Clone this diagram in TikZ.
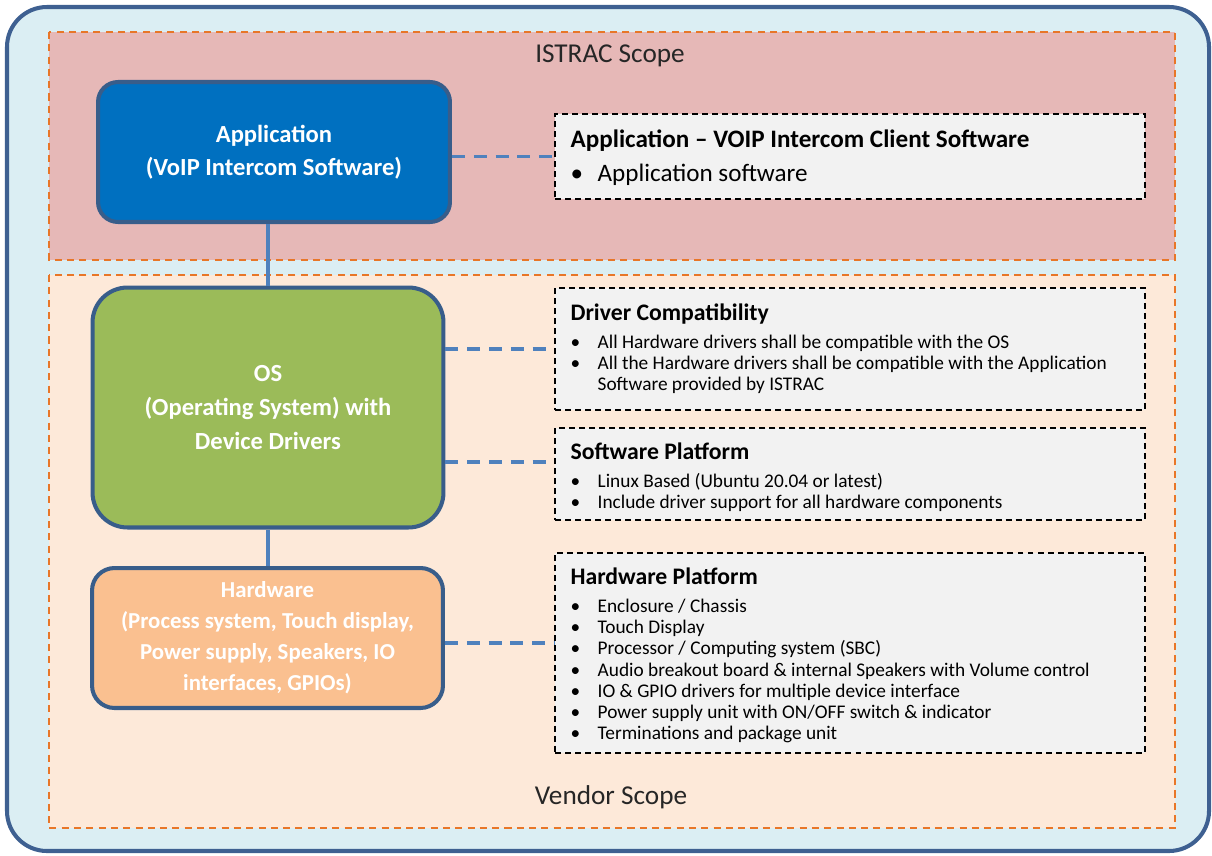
\documentclass[tikz,border=0pt]{standalone}
\usepackage{fontspec}
\setmainfont{Carlito}
\usetikzlibrary{calc}

\definecolor{oframe}{RGB}{62,96,145}
\definecolor{osky}{RGB}{219,238,243}
\definecolor{orose}{RGB}{230,184,183}
\definecolor{opeach}{RGB}{253,233,217}
\definecolor{oorange}{RGB}{232,118,40}
\definecolor{oblue}{RGB}{0,112,192}
\definecolor{oedge}{RGB}{56,93,138}
\definecolor{ogreen}{RGB}{155,187,89}
\definecolor{otan}{RGB}{250,192,144}
\definecolor{ogrey}{RGB}{242,242,242}
\definecolor{olink}{RGB}{79,129,189}

\newcommand{\itm}{\makebox[15.4pt][l]{\textbullet}}

\begin{document}
\begin{tikzpicture}[x=0.02cm, y=-0.02cm,
  layer/.style={rounded corners=#1, draw=oedge, line width=2.3pt, text=white, align=center,
    font=\bfseries\fontsize{14}{18.8}\selectfont},
  scopebox/.style={draw=oorange, line width=0.9pt, dash pattern=on 4pt off 3pt},
  notebox/.style={draw=black, fill=ogrey, line width=0.9pt, dash pattern=on 3.4pt off 2.3pt,
    minimum width=11.8cm, inner sep=0pt},
  notetext/.style={anchor=north west, inner sep=0pt, align=left, text=black,
    font=\fontsize{11}{12.1}\selectfont},
  link/.style={draw=olink, line width=2pt},
  dashlink/.style={link, dash pattern=on 7.4pt off 5pt},
  scopelabel/.style={font=\fontsize{15.5}{18}\selectfont, text=black!85}]

\useasboundingbox (0,0) rectangle (1212,855);

% frame and the two scopes
\draw[rounded corners=0.8cm, draw=oframe, fill=osky, line width=2.3pt] (7,7) rectangle (1209,851);
\draw[scopebox, fill=orose] (49,32) rectangle (1175,260);
\draw[scopebox, fill=opeach] (49,275) rectangle (1175,828);
\node[scopelabel] (istrac) at (610,56) {ISTRAC Scope};
\node[scopelabel] (vendor) at (611,797) {Vendor Scope};

% layer stack
\node[layer=0.4cm, fill=oblue, minimum width=7.04cm, minimum height=2.8cm] (app) at (274,152)
  {Application\\(VoIP Intercom Software)};
\node[layer=0.7cm, fill=ogreen, minimum width=7.02cm, minimum height=4.8cm,
  font=\bfseries\fontsize{14}{19.6}\selectfont] (os) at (268,407.5)
  {OS\\(Operating System) with\\Device Drivers};
\node[layer=0.45cm, fill=otan, minimum width=7.02cm, minimum height=2.8cm,
  font=\bfseries\fontsize{13}{17.7}\selectfont] (hw) at (267.5,638)
  {Hardware\\(Process system, Touch display,\\Power supply, Speakers, IO\\interfaces, GPIOs)};

\draw[link] (os.north) -- (os.north |- app.south);
\draw[link] (os.south) -- (os.south |- hw.north);

% notes on the right
\node[notebox, minimum height=1.7cm] (appnote) at (850,156.5) {};
\node[notetext, font=\fontsize{14.3}{17}\selectfont] (appnote-txt) at ($(appnote.north west)+(16,16)$)
  {\textbf{Application -- VOIP Intercom Client Software}\\[2.3pt]
   \itm Application software};

\node[notebox, minimum height=2.44cm] (drvnote) at (850,349) {};
\node[notetext] (drvnote-txt) at ($(drvnote.north west)+(16,16)$)
  {{\fontsize{13.5}{14}\selectfont\bfseries Driver Compatibility}\\[3.9pt]
   \itm All Hardware drivers shall be compatible with the OS\\
   \itm All the Hardware drivers shall be compatible with the Application\\
   \hspace*{15.4pt}Software provided by ISTRAC};

\node[notebox, minimum height=1.84cm] (swnote) at (850,474) {};
\node[notetext] (swnote-txt) at ($(swnote.north west)+(16,15)$)
  {{\fontsize{13.5}{14}\selectfont\bfseries Software Platform}\\[3.9pt]
   \itm Linux Based (Ubuntu 20.04 or latest)\\
   \itm Include driver support for all hardware components};

\node[notebox, minimum height=4cm] (hwnote) at (850,653) {};
\node[notetext] (hwnote-txt) at ($(hwnote.north west)+(16,15)$)
  {{\fontsize{13.5}{14}\selectfont\bfseries Hardware Platform}\\[3.9pt]
   \itm Enclosure / Chassis\\
   \itm Touch Display\\
   \itm Processor / Computing system (SBC)\\
   \itm Audio breakout board \& internal Speakers with Volume control\\
   \itm IO \& GPIO drivers for multiple device interface\\
   \itm Power supply unit with ON/OFF switch \& indicator\\
   \itm Terminations and package unit};

% dashed links
\coordinate (swlink) at ($(swnote.west)+(0,-12)$);
\coordinate (hwlink) at ($(hwnote.west)+(0,-10)$);
\draw[dashlink] (appnote.west -| app.east) -- (appnote.west);
\draw[dashlink] (drvnote.west -| os.east) -- (drvnote.west);
\draw[dashlink] (swlink -| os.east) -- (swlink);
\draw[dashlink] (hwlink -| hw.east) -- (hwlink);

\end{tikzpicture}
\end{document}
